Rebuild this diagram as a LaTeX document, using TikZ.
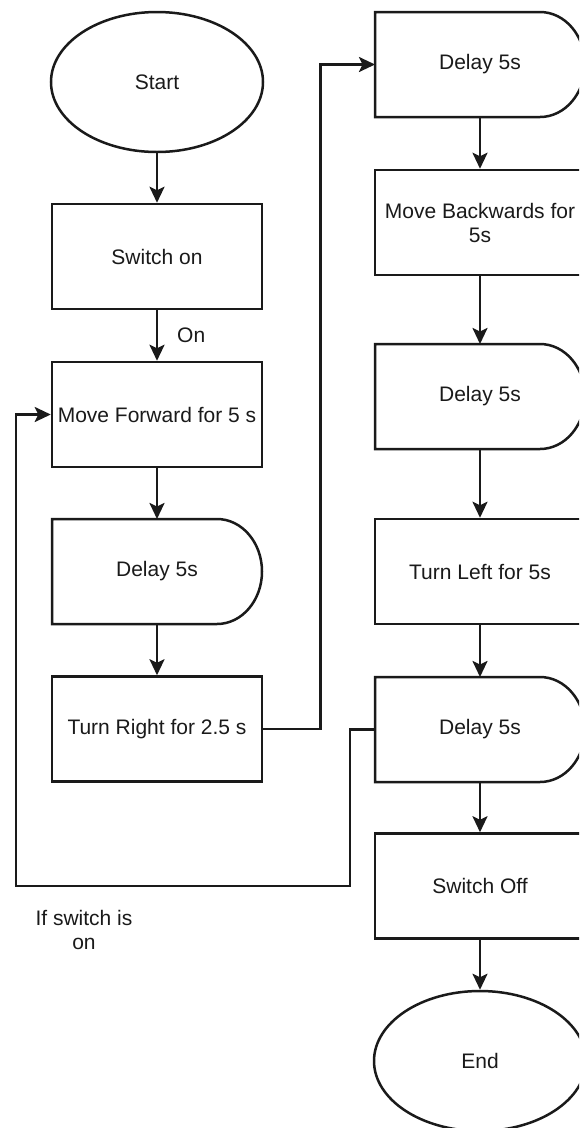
\documentclass[tikz,border=0pt]{standalone}
\usepackage{fontspec}
\setmainfont{Liberation Sans}
\usetikzlibrary{arrows.meta,shapes.geometric}
\definecolor{ink}{HTML}{1A1A1A}
\tikzset{
  base/.style={draw=ink, line width=2.5pt, text=ink, inner sep=0pt, font=\fontsize{21}{24}\selectfont, align=center},
  procbox/.style={base, rectangle, minimum width=210pt, minimum height=105pt},
  termin/.style={base, ellipse, minimum width=212pt, minimum height=140pt},
  delaybox/.style={base, draw=none, outer sep=0pt, rectangle, minimum width=210pt, minimum height=105pt},
  delayline/.style={draw=ink, line width=2.5pt, line join=miter},
  arr/.style={draw=ink, line width=2.5pt, -{Stealth[length=16pt,width=15pt,inset=3.5pt]}},
  lbl/.style={text=ink, font=\fontsize{21}{24}\selectfont, align=center, inner sep=0pt}
}
\newcommand{\delayoutline}[1]{%
  \draw[delayline] ([xshift=-45pt]#1.north east)
    arc[start angle=90, end angle=-90, x radius=45pt, y radius=52.5pt]
    -- (#1.south west) -- (#1.north west) -- cycle;}
\begin{document}
\begin{tikzpicture}[x=1pt,y=1pt]
\useasboundingbox (0,0) rectangle (579,-1128);
\clip (0,0) rectangle (579,-1128);
\fill[white] (0,0) rectangle (579,-1128);
% left column
\node[termin] (start) at (157,-82) {Start};
\node[procbox] (swon) at (157,-256.5) {Switch on};
\node[procbox] (mf) at (157,-414.5) {Move Forward for 5 s};
\node[delaybox] (d1) at (157,-571.5) {Delay 5s};
\delayoutline{d1}
\node[procbox] (tr) at (157,-729) {Turn Right for 2.5 s};
% right column
\node[delaybox] (d2) at (480,-64.5) {Delay 5s};
\delayoutline{d2}
\node[procbox] (mb) at (480,-222.5) {Move Backwards for\\5s};
\node[delaybox] (d3) at (480,-396.5) {Delay 5s};
\delayoutline{d3}
\node[procbox] (tl) at (480,-571.5) {Turn Left for 5s};
\node[delaybox] (d4) at (480,-729.5) {Delay 5s};
\delayoutline{d4}
\node[procbox] (so) at (480,-886) {Switch Off};
\node[termin] (end) at (480,-1061) {End};
% labels
\node[lbl, anchor=west] (onl) at (177,-335) {On};
\node[lbl] (ifl) at (84,-930) {If switch is\\on};
% connectors
\draw[arr] (start) -- (swon);
\draw[arr] (swon) -- (mf);
\draw[arr] (mf) -- (d1);
\draw[arr] (d1) -- (tr);
\draw[arr] (tr.east) -- ++(57,0) |- (d2.west);
\draw[arr] (d2) -- (mb);
\draw[arr] (mb) -- (d3);
\draw[arr] (d3) -- (tl);
\draw[arr] (tl) -- (d4);
\draw[arr] (d4) -- (so);
\draw[arr] (so) -- (end);
\coordinate (lb) at (16,-886);
\draw[arr] (d4.west) -- ++(-25,0) |- (lb) |- (mf.west);
\end{tikzpicture}
\end{document}
